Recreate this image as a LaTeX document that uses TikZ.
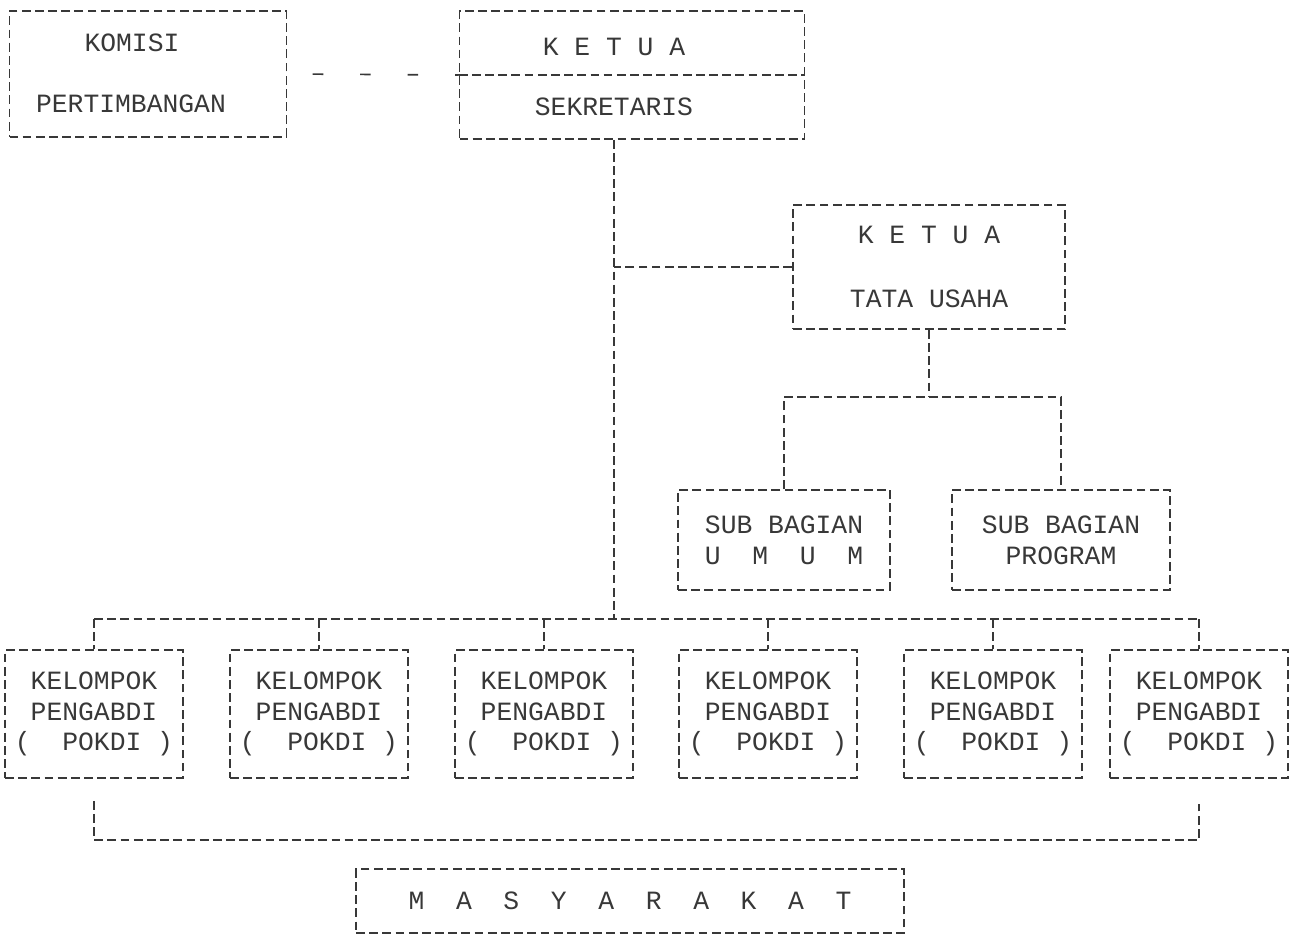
\documentclass[tikz,border=0pt]{standalone}
\usepackage{fontspec}
\setmonofont{Liberation Mono}
\usepackage{tikz}
\usetikzlibrary{calc}
\definecolor{ink}{HTML}{383838}
\tikzset{
  dotline/.style={draw=ink, line width=0.9pt, dash pattern=on 5pt off 2.5pt},
  sparse/.style={draw=ink, line width=0.9pt, dash pattern=on 6pt off 21pt, dash phase=12.5pt},
  unit/.style={dotline, inner sep=0pt, align=center, text=ink,
    font=\ttfamily\fontsize{15}{17.5}\selectfont},
  pokdi/.style={unit, minimum width=3.56cm, minimum height=2.56cm},
  lab/.style={text=ink, inner sep=0pt, font=\ttfamily\fontsize{15}{17.5}\selectfont}
}

\begin{document}
\begin{tikzpicture}[x=0.02cm, y=-0.02cm]
  \useasboundingbox (0,0) rectangle (1300,938);

  \node[unit, minimum width=5.54cm, minimum height=2.52cm] (komisi) at (148,74) {};
  \node[lab] (komisiT) at (132,43) {KOMISI};
  \node[lab] (pertim) at (131,104) {PERTIMBANGAN};
  \node[unit, minimum width=6.9cm, minimum height=2.56cm] (ketua) at (632,75) {};
  \node[lab] (ketuaT) at (614,47) {K E T U A};
  \node[lab] (sekr) at (614,107) {SEKRETARIS};

  \node[unit, minimum width=5.44cm, minimum height=2.48cm] (tu) at (929,267)
    {K E T U A\\[19pt]TATA USAHA};
  \node[unit, minimum width=4.24cm, minimum height=2cm] (umum) at (784,540)
    {SUB BAGIAN\\U\ \ M\ \ U\ \ M};
  \node[unit, minimum width=4.36cm, minimum height=2cm] (prog) at (1061,540)
    {SUB BAGIAN\\PROGRAM};

  \foreach \i/\x in {1/94,2/319,3/544,4/768,5/993,6/1199}
    \node[pokdi] (k\i) at (\x,714) {KELOMPOK\\PENGABDI\\(\ \ POKDI\ )};

  \node[unit, minimum width=10.96cm, minimum height=1.28cm] (masy) at (630,901)
    {M\ \ A\ \ S\ \ Y\ \ A\ \ R\ \ A\ \ K\ \ A\ \ T};

  \coordinate (spine) at (sekr |- ketua.south);
  \coordinate (bus) at (614,619);
  \coordinate (split) at (920,397);
  \coordinate (base) at (0,840);

  \draw[sparse] (komisi.east) -- (ketua.west);
  \draw[dotline] (ketua.west) -- (ketua.east);
  \draw[dotline] (spine) -- (bus);
  \draw[dotline] (tu.west) -- (tu.west -| spine);

  % sub bagian
  \draw[dotline] (tu.south) -- (tu.south |- split);
  \draw[dotline] (umum.north) -- (umum.north |- split) -- (prog.north |- split) -- (prog.north);

  % pokdi
  \draw[dotline] (k1.north |- bus) -- (k6.north |- bus);
  \foreach \i in {1,...,6}
    \draw[dotline] (k\i.north |- bus) -- (k\i.north);
  \draw[dotline] ($(k1.south)+(0,22)$) -- (k1.south |- base) -- (k6.south |- base) -- ($(k6.south)+(0,25)$);
\end{tikzpicture}
\end{document}
